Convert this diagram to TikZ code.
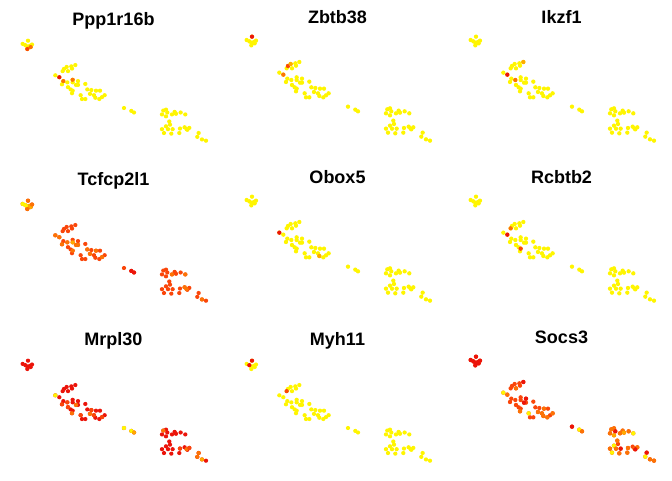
\documentclass[tikz,border=0pt]{standalone}
\usepackage{fontspec}
\setmainfont{Liberation Sans}
\usepackage{tikz}

\definecolor{heatA}{RGB}{235,20,10}
\definecolor{heatB}{RGB}{250,70,10}
\definecolor{heatC}{RGB}{252,115,5}
\definecolor{heatD}{RGB}{255,170,0}
\definecolor{heatE}{RGB}{255,245,0}

% cell positions, same in every panel
\def\celllist{1/84/110, 2/68/120, 3/76/124, 4/82/128, 5/90/126, 6/96/122, 7/82/136, 8/92/130,
  9/166/218, 10/178/224, 11/190/236, 12/202/240, 13/186/246, 14/188/205, 15/192/198, 16/200/192,
  17/204/205, 18/214/190, 19/216/197, 20/226/186, 21/218/232, 22/218/240, 23/228/248, 24/234/236,
  25/234/248, 26/204/255, 27/212/262, 28/218/266, 29/216/274, 30/256/245, 31/262/262, 32/242/280,
  33/246/292, 34/256/292, 35/270/276, 36/274/264, 37/282/280, 38/288/266, 39/300/266, 40/286/288,
  41/298/292, 42/306/286, 43/314/280,
  44/372/320, 45/394/329, 46/402/334,
  47/486/340, 48/490/328, 49/498/325, 50/502/334, 51/498/346, 52/516/340, 53/524/332, 54/528/338,
  55/542/334, 56/556/340, 57/508/362, 58/510/372, 59/486/386, 60/492/398, 61/498/377, 62/504/386,
  63/514/400, 64/518/386, 65/540/384, 66/538/398, 67/554/380, 68/560/386, 69/568/382, 70/562/388,
  71/596/398, 72/592/410, 73/606/418, 74/618/422}

\newcommand\cells[2]{%
  \foreach \i/\x/\y in \celllist
    \fill[#1] (\x,\y) coordinate (p\i) circle[radius=6.5];
  \foreach \i/\c in {#2}
    \fill[\c] (p\i) circle[radius=6.5];
}

\begin{document}
\begin{tikzpicture}[x=1pt, y=-1pt,
    title/.style={font=\fontsize{18}{20}\selectfont\bfseries, anchor=base},
    panel/.style={x=0.3333pt, y=-0.3333pt},
    desc/.style={yshift=-5.4pt, yscale=0.962}]

    \useasboundingbox (0,0) rectangle (672,480);

    % row 1
    \begin{scope}[shift={(0,0)}, desc, panel]
        \cells{heatE}{10/heatA, 11/heatC, 21/heatC, 7/heatB, 8/heatC}
    \end{scope}
    \node[title] (ppp) at (113.5,25) {Ppp1r16b};

    \begin{scope}[shift={(224,0)}, panel]
        \cells{heatE}{1/heatA, 15/heatB, 16/heatD, 10/heatC}
    \end{scope}
    \node[title] (zbtb) at (337.5,23.5) {Zbtb38};

    \begin{scope}[shift={(448,0)}, panel]
        \cells{heatE}{10/heatA, 12/heatC, 20/heatD}
    \end{scope}
    \node[title] (ikzf) at (561.5,23.5) {Ikzf1};

    % row 2
    \begin{scope}[shift={(0,160)}, desc, panel]
        \cells{heatB}{2/heatE, 3/heatE, 4/heatE, 5/heatD, 8/heatD, 1/heatC, 6/heatC, 7/heatC,
            9/heatC, 10/heatC, 12/heatC, 13/heatC, 22/heatD, 23/heatC, 25/heatC, 28/heatC,
            31/heatC, 35/heatC, 38/heatC, 42/heatC, 45/heatA, 46/heatA,
            52/heatC, 56/heatC, 67/heatC, 68/heatC, 73/heatC}
    \end{scope}
    \node[title] (tcf) at (113.5,185) {Tcfcp2l1};

    \begin{scope}[shift={(224,160)}, panel]
        \cells{heatE}{9/heatA, 40/heatD}
    \end{scope}
    \node[title] (obox) at (337.5,183.5) {Obox5};

    \begin{scope}[shift={(448,160)}, panel]
        \cells{heatE}{10/heatA, 14/heatC, 28/heatB}
    \end{scope}
    \node[title] (rcb) at (561.5,183.5) {Rcbtb2};

    % row 3
    \begin{scope}[shift={(0,320)}, desc, panel]
        \cells{heatA}{9/heatE, 44/heatE, 45/heatE, 46/heatD, 71/heatC, 72/heatC, 73/heatD,
            48/heatC, 29/heatC, 35/heatC, 23/heatC, 36/heatB, 42/heatB, 12/heatB, 32/heatB,
            37/heatB, 65/heatB, 68/heatC, 69/heatB, 13/heatB, 26/heatB}
    \end{scope}
    \node[title] (mrpl) at (113.5,345) {Mrpl30};

    \begin{scope}[shift={(224,320)}, desc, panel]
        \cells{heatE}{1/heatA, 3/heatA, 14/heatB}
    \end{scope}
    \node[title] (myh) at (337.5,345) {Myh11};

    \begin{scope}[shift={(448,320)}, panel]
        \cells{heatB}{1/heatA, 2/heatA, 3/heatA, 4/heatA, 5/heatA, 6/heatA, 7/heatA, 8/heatA,
            9/heatE, 32/heatE, 10/heatC, 17/heatC, 20/heatA, 23/heatA, 24/heatA, 29/heatC,
            35/heatC, 37/heatC, 38/heatC, 40/heatC, 41/heatC, 43/heatC,
            44/heatA, 45/heatE, 46/heatC,
            47/heatC, 48/heatC, 49/heatC, 50/heatA, 51/heatD, 52/heatC, 53/heatC, 54/heatD,
            55/heatC, 56/heatE, 57/heatC, 59/heatC, 60/heatE, 61/heatE, 62/heatC, 63/heatC,
            64/heatA, 65/heatC, 66/heatC, 68/heatC, 69/heatC, 70/heatA, 71/heatA, 72/heatE,
            73/heatC, 74/heatC}
    \end{scope}
    \node[title] (socs) at (561.5,343.5) {Socs3};

\end{tikzpicture}
\end{document}
